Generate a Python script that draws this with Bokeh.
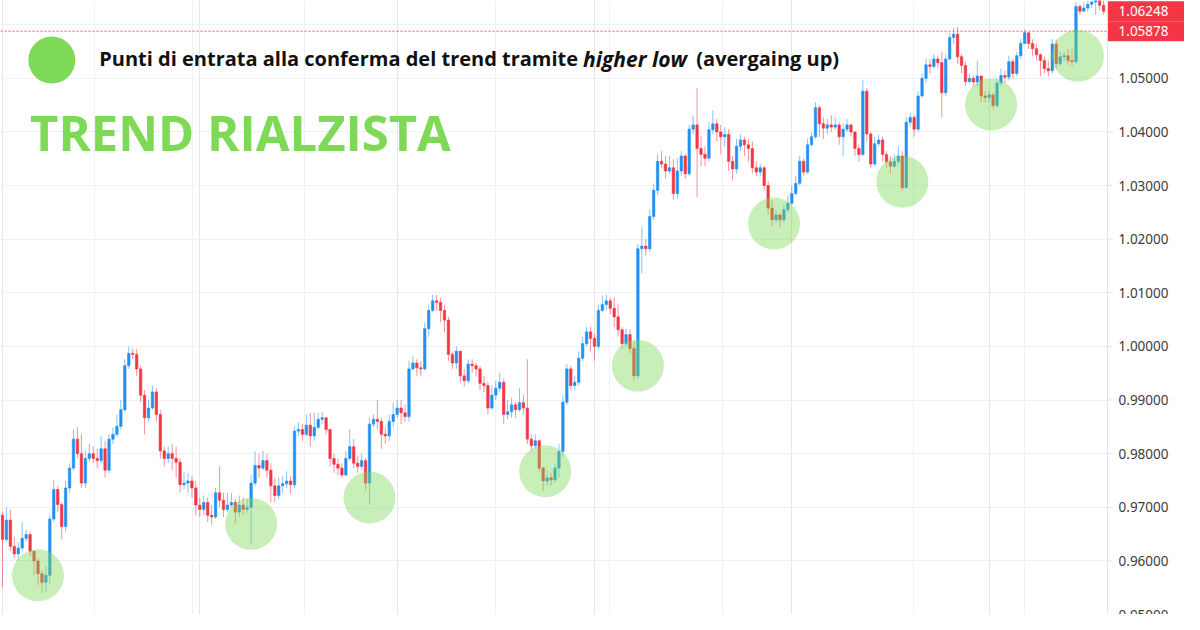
import numpy as np
from bokeh.plotting import figure
from bokeh.models import (ColumnDataSource, Range1d, FixedTicker, Grid,
                          Label, Span, BoxAnnotation)
from bokeh.core.properties import value
from bokeh.embed import file_html
from bokeh.resources import INLINE

# ---------------- data (prices in pips, 1 pip = 0.0001) ----------------
first_open = 9685
close = [9640, 9676, 9627, 9613, 9624, 9642, 9649, 9618, 9600, 9576,
         9560, 9573, 9678, 9733, 9705, 9664, 9736, 9773, 9827, 9800,
         9745, 9791, 9800, 9791, 9787, 9809, 9769, 9827, 9836, 9851,
         9882, 9964, 9987, 9985, 9958, 9909, 9867, 9885, 9915, 9873,
         9805, 9791, 9800, 9791, 9784, 9742, 9745, 9749, 9736, 9704,
         9696, 9709, 9685, 9682, 9727, 9713, 9696, 9704, 9709, 9691,
         9704, 9696, 9700, 9745, 9778, 9773, 9787, 9769, 9740, 9722,
         9740, 9744, 9749, 9742, 9842, 9845, 9836, 9853, 9833, 9849,
         9864, 9867, 9845, 9791, 9780, 9773, 9760, 9791, 9813, 9782,
         9776, 9787, 9745, 9855, 9864, 9860, 9836, 9833, 9860, 9873,
         9885, 9876, 9869, 9958, 9969, 9960, 9958, 10033, 10067, 10085,
         10082, 10067, 10049, 9985, 9969, 9991, 9945, 9936, 9967, 9964,
         9958, 9931, 9927, 9885, 9909, 9922, 9933, 9873, 9878, 9891,
         9882, 9895, 9885, 9827, 9815, 9824, 9773, 9749, 9755, 9751,
         9773, 9804, 9896, 9958, 9927, 9933, 9978, 10005, 10027, 10015,
         10000, 10067, 10078, 10085, 10071, 10055, 10031, 10005, 10022, 9996,
         9945, 10182, 10187, 10182, 10242, 10291, 10345, 10340, 10327, 10333,
         10285, 10327, 10355, 10322, 10405, 10413, 10369, 10358, 10351, 10404,
         10415, 10400, 10391, 10395, 10345, 10331, 10373, 10385, 10376, 10369,
         10333, 10325, 10333, 10300, 10258, 10236, 10245, 10236, 10255, 10267,
         10285, 10304, 10345, 10325, 10376, 10391, 10445, 10415, 10407, 10413,
         10409, 10413, 10391, 10405, 10413, 10400, 10369, 10358, 10476, 10396,
         10340, 10378, 10385, 10358, 10344, 10336, 10345, 10355, 10296, 10418,
         10427, 10405, 10467, 10500, 10525, 10522, 10536, 10529, 10473, 10536,
         10576, 10582, 10540, 10524, 10494, 10500, 10493, 10504, 10467, 10464,
         10469, 10449, 10491, 10505, 10502, 10531, 10509, 10542, 10565, 10585,
         10565, 10555, 10544, 10533, 10518, 10514, 10564, 10527, 10540, 10542,
         10533, 10531, 10634, 10625, 10631, 10638, 10642, 10645, 10636, 10624.8]
high = [9691, 9700, 9696, 9645, 9635, 9673, 9658, 9655, 9618, 9605,
        9582, 9591, 9685, 9751, 9740, 9709, 9749, 9782, 9845, 9849,
        9836, 9805, 9818, 9813, 9809, 9833, 9824, 9836, 9849, 9873,
        9900, 9976, 10000, 9996, 9995, 9964, 9918, 9900, 9927, 9922,
        9882, 9813, 9813, 9818, 9813, 9791, 9767, 9764, 9758, 9749,
        9718, 9722, 9718, 9704, 9736, 9776, 9727, 9727, 9727, 9715,
        9722, 9718, 9715, 9760, 9804, 9800, 9805, 9800, 9782, 9755,
        9755, 9758, 9767, 9758, 9851, 9858, 9855, 9873, 9876, 9876,
        9876, 9878, 9867, 9845, 9800, 9791, 9782, 9805, 9845, 9827,
        9795, 9800, 9791, 9867, 9873, 9900, 9867, 9849, 9873, 9895,
        9900, 9900, 9891, 9973, 9982, 9976, 9973, 10045, 10078, 10096,
        10096, 10091, 10078, 10055, 9991, 10000, 9991, 9958, 9976, 9976,
        9969, 9964, 9945, 9933, 9927, 9936, 9951, 9940, 9900, 9904,
        9896, 9922, 9909, 9976, 9836, 9836, 9827, 9776, 9769, 9764,
        9782, 9818, 9909, 9967, 9964, 9945, 9991, 10018, 10036, 10036,
        10024, 10078, 10095, 10096, 10091, 10091, 10078, 10036, 10033, 10031,
        10009, 10191, 10222, 10200, 10255, 10304, 10358, 10364, 10355, 10355,
        10349, 10351, 10364, 10358, 10413, 10431, 10482, 10391, 10373, 10418,
        10440, 10424, 10413, 10409, 10405, 10355, 10387, 10395, 10391, 10387,
        10382, 10345, 10340, 10336, 10309, 10273, 10255, 10249, 10264, 10282,
        10300, 10318, 10355, 10351, 10387, 10400, 10455, 10449, 10427, 10424,
        10431, 10427, 10418, 10415, 10424, 10415, 10382, 10376, 10496, 10482,
        10400, 10391, 10395, 10391, 10364, 10355, 10358, 10373, 10364, 10427,
        10436, 10431, 10476, 10509, 10536, 10536, 10545, 10542, 10549, 10545,
        10585, 10594, 10596, 10545, 10531, 10509, 10505, 10533, 10505, 10476,
        10476, 10473, 10500, 10518, 10514, 10542, 10536, 10549, 10573, 10591,
        10582, 10573, 10564, 10545, 10540, 10533, 10573, 10573, 10549, 10549,
        10555, 10555, 10642, 10638, 10642, 10645, 10645, 10654, 10645, 10645]
low = [9551, 9636, 9618, 9605, 9600, 9618, 9636, 9609, 9573, 9555,
       9540, 9542, 9558, 9673, 9691, 9640, 9655, 9727, 9769, 9791,
       9736, 9736, 9785, 9782, 9773, 9782, 9755, 9764, 9818, 9831,
       9845, 9878, 9958, 9976, 9945, 9896, 9836, 9860, 9882, 9860,
       9791, 9776, 9782, 9769, 9755, 9727, 9733, 9727, 9718, 9685,
       9682, 9685, 9673, 9667, 9678, 9700, 9682, 9691, 9700, 9669,
       9682, 9685, 9689, 9631, 9740, 9755, 9769, 9755, 9709, 9709,
       9715, 9727, 9736, 9725, 9736, 9833, 9824, 9833, 9813, 9824,
       9845, 9855, 9836, 9776, 9764, 9760, 9755, 9760, 9787, 9773,
       9764, 9769, 9731, 9705, 9849, 9845, 9809, 9818, 9824, 9849,
       9867, 9855, 9860, 9860, 9955, 9945, 9944, 9955, 10018, 10064,
       10067, 10045, 10027, 9973, 9958, 9958, 9933, 9925, 9931, 9951,
       9944, 9918, 9915, 9873, 9882, 9900, 9915, 9855, 9864, 9867,
       9867, 9878, 9873, 9818, 9805, 9809, 9764, 9731, 9740, 9740,
       9745, 9755, 9795, 9891, 9918, 9918, 9927, 9973, 10000, 9991,
       9973, 9995, 10064, 10067, 10060, 10036, 10018, 9995, 10000, 9987,
       9936, 9940, 10136, 10169, 10176, 10236, 10282, 10333, 10313, 10322,
       10273, 10276, 10318, 10313, 10318, 10395, 10278, 10336, 10336, 10345,
       10395, 10382, 10358, 10373, 10327, 10309, 10322, 10364, 10355, 10345,
       10322, 10318, 10318, 10291, 10245, 10224, 10231, 10222, 10231, 10249,
       10264, 10282, 10300, 10318, 10322, 10373, 10387, 10391, 10387, 10396,
       10400, 10404, 10376, 10355, 10400, 10391, 10355, 10345, 10355, 10382,
       10333, 10336, 10373, 10345, 10333, 10322, 10333, 10340, 10291, 10296,
       10409, 10391, 10400, 10464, 10491, 10509, 10518, 10518, 10427, 10467,
       10533, 10564, 10527, 10509, 10485, 10491, 10485, 10485, 10455, 10455,
       10455, 10442, 10445, 10485, 10491, 10496, 10500, 10504, 10536, 10564,
       10555, 10542, 10533, 10504, 10509, 10504, 10509, 10518, 10522, 10531,
       10525, 10522, 10527, 10618, 10624, 10624, 10631, 10618, 10627, 10618]

# entry points (higher lows) marked with green circles
entry_idx = [9, 63, 93, 137.5, 161, 195.5, 228, 250.5, 272.5]
entry_price = [0.9573, 0.9669, 0.9718, 0.9767, 0.9964, 1.0229, 1.0307, 1.0451, 1.0542]

# price scale ticks and time grid (month boundaries, candle index)
y_ticks = [0.95, 0.96, 0.97, 0.98, 0.99, 1.00, 1.01, 1.02, 1.03, 1.04, 1.05, 1.06]
label_ticks = [0.95, 0.96, 0.97, 0.98, 0.99, 1.00, 1.01, 1.02, 1.03, 1.04, 1.05]
month_ticks = [23.25, 48.25, 76.5, 125, 153.75, 182.5, 230.75, 259]
marker_prices = [1.06248, 1.05878]   # last price, level line
level_price = 1.05878

title_text = "TREND RIALZISTA"
note_a = "Punti di entrata alla conferma del trend tramite"
note_b = "higher low"
note_c = "(avergaing up)"

# ---------------- build ----------------
UP = "#2190f2"
DOWN = "#f23645"
GREEN = "#7ed957"
GRID = "#eef0f3"
AXIS = "#e0e3eb"

c = np.array(close, dtype=float) / 10000.0
o = np.concatenate([[first_open / 10000.0], c[:-1]])
h = np.array(high, dtype=float) / 10000.0
l = np.array(low, dtype=float) / 10000.0
idx = np.arange(len(c))
colors = [UP if cc >= oo else DOWN for oo, cc in zip(o, c)]
src = ColumnDataSource(dict(x=idx, open=o, close=c, high=h, low=l, color=colors))

W, H = 1184, 614
AXIS_X = 280.0          # end of candle area (price scale starts here)
XMAX = 299.5
p = figure(width=W, height=H, output_backend="svg", toolbar_location=None,
           x_range=Range1d(-0.5, XMAX), y_range=Range1d(0.9500, 1.0645),
           x_axis_location=None, y_axis_location=None, min_border=0)
p.outline_line_color = None
p.background_fill_color = "white"
p.border_fill_color = "white"

# grids
p.add_layout(Grid(dimension=1, ticker=FixedTicker(ticks=y_ticks), grid_line_color=GRID))
p.add_layout(Grid(dimension=0, ticker=FixedTicker(ticks=month_ticks), grid_line_color=GRID))
# price-scale strip background (covers the grid there)
p.add_layout(BoxAnnotation(left=AXIS_X, fill_color="white", fill_alpha=1.0,
                           line_color=None, level="underlay"))

# candles
p.segment(x0="x", y0="high", x1="x", y1="low", color="color", line_alpha=0.55,
          line_width=1, source=src)
p.vbar(x="x", width=0.62, top="open", bottom="close", fill_color="color",
       line_color="color", line_width=0.6, source=src)

# level line (dotted)
p.segment(x0=[-0.5], y0=[level_price], x1=[AXIS_X], y1=[level_price],
          line_color=DOWN, line_dash="2 2", line_width=1, line_alpha=0.85)

# entry circles
p.scatter(x=entry_idx, y=entry_price, size=52, fill_color=GREEN, fill_alpha=0.42,
          line_color=None)

# legend dot
p.scatter(x=[12.5], y=[1.0534], size=47, fill_color=GREEN, line_color=None)

# price scale: axis line, ticks, labels
p.add_layout(Span(location=AXIS_X, dimension="height", line_color=AXIS, line_width=1))
tick_src = ColumnDataSource(dict(x=[AXIS_X] * len(label_ticks), y=label_ticks,
                                 text=[f"{v:.5f}" for v in label_ticks]))
p.ray(x="x", y="y", length=5, length_units="screen", angle=0, line_color=AXIS,
      source=tick_src)
p.text(x="x", y="y", text="text", x_offset=11, text_baseline="middle",
       text_font=value("Noto Sans"), text_font_size="13.5px", text_color="#3c3c3c",
       source=tick_src)

# price markers (red boxes)
mk_src = ColumnDataSource(dict(x=[(AXIS_X + XMAX) / 2] * 2, xt=[AXIS_X] * 2,
                               y=marker_prices,
                               text=[f"{v:.5f}" for v in marker_prices]))
p.rect(x="x", y="y", width=XMAX - AXIS_X, height=20, height_units="screen",
       fill_color=DOWN, line_color=None, source=mk_src)
p.text(x="xt", y="y", text="text", x_offset=11, text_baseline="middle",
       text_font=value("Noto Sans"), text_font_size="13.5px", text_color="white",
       source=mk_src)

# texts
FONT = "Open Sans"
base_y = H - 58.0
for txt, xx, size, style in ((note_a, 98.7, "20px", "bold"),
                             (note_b, 582.5, "21px", "bold italic"),
                             (note_c, 695.8, "20px", "bold")):
    p.add_layout(Label(x=xx, y=base_y, x_units="screen", y_units="screen",
                       text=txt, text_font=FONT, text_font_size=size,
                       text_font_style=style, text_color="#111111",
                       text_baseline="alphabetic"))
p.add_layout(Label(x=29.6, y=H - 131.5, x_units="screen", y_units="screen",
                   text=title_text, text_font=FONT, text_font_size="49px",
                   text_font_style="bold", text_color=GREEN,
                   text_baseline="alphabetic"))

open("out.html", "w").write(file_html(p, INLINE))
